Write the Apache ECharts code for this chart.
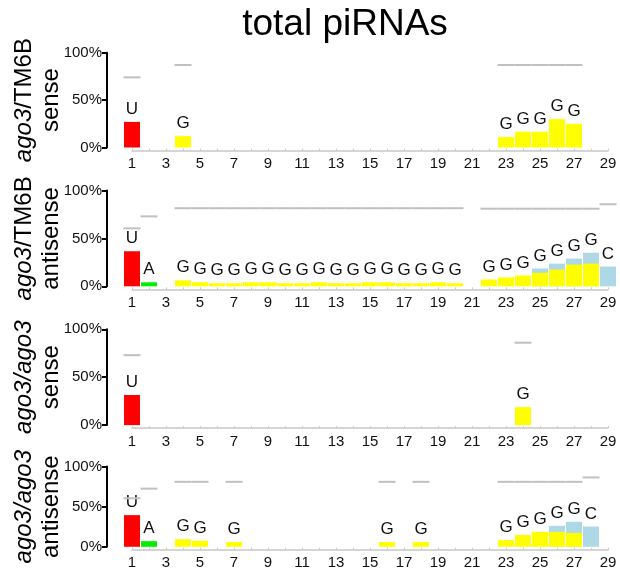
<!DOCTYPE html>
<html><head><meta charset="utf-8">
<script src="https://cdn.jsdelivr.net/npm/echarts@6/dist/echarts.min.js"></script>
<style>html,body{margin:0;padding:0;background:#fff}#c{width:620px;height:573px}</style>
</head><body><div id="c"></div>
<script>
// ---------- data ----------
const positions = [1,2,3,4,5,6,7,8,9,10,11,12,13,14,15,16,17,18,19,20,21,22,23,24,25,26,27,28,29];
const yTicks = [0, 50, 100];
const panelNames = ['{i|ago3}/TM6B\nsense', '{i|ago3}/TM6B\nantisense', '{i|ago3/ago3}\nsense', '{i|ago3/ago3}\nantisense'];

// panel 1: ago3/TM6B sense
const p1Main = [27,null,null,12,null,null,null,null,null,null,null,null,null,null,null,null,null,null,null,null,null,null,11,16.7,16.7,30,25,null,null];
const p1Extra = [null,null,null,null,null,null,null,null,null,null,null,null,null,null,null,null,null,null,null,null,null,null,null,null,null,null,null,null,null];
const p1Ref = [74,null,null,87,null,null,null,null,null,null,null,null,null,null,null,null,null,null,null,null,null,null,87,87,87,87,87,null,null];
const p1Letters = ['U','','','G','','','','','','','','','','','','','','','','','','','G','G','G','G','G','',''];

// panel 2: ago3/TM6B antisense
const p2Main = [36.6,4.2,null,6.3,4.2,3.2,3.2,4.2,4.2,3.2,3.2,4.2,3.2,3.2,4.2,4.2,3.2,3.2,4.2,3.2,null,7.2,9.3,11.3,14.1,17.5,22.7,23.7,20.6];
const p2Extra = [null,null,null,null,null,null,null,null,null,null,null,null,null,null,null,null,null,null,null,null,null,null,null,null,4.5,6.2,6.2,11.3,null];
const p2Ref = [60.5,73,null,81.5,81.5,81.5,81.5,81.5,81.5,81.5,81.5,81.5,81.5,81.5,81.5,81.5,81.5,81.5,81.5,81.5,null,81,81,81,81,81,81,81,85.6];
const p2Letters = ['U','A','','G','G','G','G','G','G','G','G','G','G','G','G','G','G','G','G','G','','G','G','G','G','G','G','G','C'];

// panel 3: ago3/ago3 sense
const p3Main = [31.4,null,null,null,null,null,null,null,null,null,null,null,null,null,null,null,null,null,null,null,null,null,null,18.8,null,null,null,null,null];
const p3Extra = [null,null,null,null,null,null,null,null,null,null,null,null,null,null,null,null,null,null,null,null,null,null,null,null,null,null,null,null,null];
const p3Ref = [73,null,null,null,null,null,null,null,null,null,null,null,null,null,null,null,null,null,null,null,null,null,null,86,null,null,null,null,null];
const p3Letters = ['U','','','','','','','','','','','','','','','','','','','','','','','G','','','','',''];

// panel 4: ago3/ago3 antisense
const p4Main = [39.5,7,null,9.5,7.4,null,6,null,null,null,null,null,null,null,null,6,null,6,null,null,null,null,8.4,14.8,18.6,18.6,17.3,25.3,null];
const p4Extra = [null,null,null,null,null,null,null,null,null,null,null,null,null,null,null,null,null,null,null,null,null,null,null,null,null,7.6,13.9,null,null];
const p4Ref = [60.5,72.5,null,81,81,null,81,null,null,null,null,null,null,null,null,81,null,81,null,null,null,null,81,81,81,81,81,86.5,null];
const p4Letters = ['U','A','','G','G','','G','','','','','','','','','G','','G','','','','','G','G','G','G','G','C',''];

const panels = [
  {main: p1Main, extra: p1Extra, ref: p1Ref, letters: p1Letters},
  {main: p2Main, extra: p2Extra, ref: p2Ref, letters: p2Letters},
  {main: p3Main, extra: p3Extra, ref: p3Ref, letters: p3Letters},
  {main: p4Main, extra: p4Extra, ref: p4Ref, letters: p4Letters}
];

// ---------- styling / layout ----------
const FONT = "'Liberation Sans', Arial, Helvetica, sans-serif";
const letterColor = {U: '#ff0000', A: '#00ee00', G: '#ffff00', C: '#add8e6'};
const EXTRA_COLOR = '#add8e6';
const REF_COLOR = '#c0c0c0';
const gridBoxes = [
  {top: 52.7, height: 94.8},
  {top: 190.5, height: 95.8},
  {top: 329.3, height: 95.8},
  {top: 466.6, height: 80.2}
];

const grids = [], xAxes = [], yAxes = [], series = [];
const letterLabel = (txt) => ({
  show: true, position: 'top', distance: 4, formatter: txt,
  fontSize: 17, color: '#111', fontFamily: FONT
});

panels.forEach((p, i) => {
  grids.push({left: 132, width: 476, top: gridBoxes[i].top, height: gridBoxes[i].height,
              containLabel: false, outerBoundsMode: 'none'});
  xAxes.push({
    type: 'value', gridIndex: i, min: positions[0], max: positions[positions.length - 1], interval: 1,
    offset: 3,
    axisLine: {show: true, onZero: false, lineStyle: {color: '#c8c8c8', width: 1.5}},
    axisTick: {show: true, inside: true, length: 2, lineStyle: {color: '#c8c8c8', width: 1}},
    splitLine: {show: false},
    axisLabel: {
      margin: 6, fontSize: 15, color: '#111', fontFamily: FONT,
      formatter: (v) => (v % 2 === 1 ? String(v) : '')
    }
  });
  yAxes.push({
    type: 'value', gridIndex: i, min: yTicks[0], max: yTicks[yTicks.length - 1], interval: 50,
    offset: 25,
    name: panelNames[i], nameLocation: 'middle', nameRotate: 90, nameGap: 42, nameMoveOverlap: false,
    nameTextStyle: {
      fontSize: 24, lineHeight: 27, color: '#000', fontFamily: FONT,
      rich: {i: {fontStyle: 'italic', fontSize: 24, lineHeight: 27, color: '#000', fontFamily: FONT}}
    },
    axisLine: {show: true, lineStyle: {color: '#000', width: 2}},
    axisTick: {show: true, length: 5, lineStyle: {color: '#000', width: 2}},
    splitLine: {show: false},
    axisLabel: {margin: 5, fontSize: 15, color: '#111', fontFamily: FONT, formatter: '{value}%'}
  });

  // upper (light blue) part: drawn behind, reaching the top of the whole bar
  const topData = positions.map((x, k) => {
    const v = p.extra[k];
    return {
      value: [x, v == null ? null : p.main[k] + v],
      label: v != null ? letterLabel(p.letters[k]) : {show: false}
    };
  });
  const mainData = positions.map((x, k) => {
    const v = p.main[k];
    const hasExtra = p.extra[k] != null;
    return {
      value: [x, v == null ? null : v],
      itemStyle: {color: letterColor[p.letters[k]] || '#ffff00'},
      label: (v != null && !hasExtra) ? letterLabel(p.letters[k]) : {show: false}
    };
  });

  series.push({
    type: 'bar', xAxisIndex: i, yAxisIndex: i, barWidth: 16, barGap: '-100%', z: 1,
    itemStyle: {color: EXTRA_COLOR},
    data: topData, clip: false, silent: true, animation: false
  });
  series.push({
    type: 'bar', xAxisIndex: i, yAxisIndex: i, barWidth: 16, barGap: '-100%', z: 2,
    data: mainData, clip: false, silent: true, animation: false
  });
  series.push({
    type: 'custom', xAxisIndex: i, yAxisIndex: i, clip: false, silent: true, animation: false,
    data: positions.map((x, k) => [x, p.ref[k]]).filter(d => d[1] != null),
    renderItem: (params, api) => {
      const x = api.value(0), y = api.value(1);
      const a = api.coord([x - 0.5, y]);
      const b = api.coord([x + 0.5, y]);
      return {type: 'line', shape: {x1: a[0], y1: a[1], x2: b[0], y2: b[1]},
              style: {stroke: REF_COLOR, lineWidth: 2}};
    },
    z: 3
  });
});

const chart = echarts.init(document.getElementById('c'), null, {renderer: 'canvas'});
chart.setOption({
  backgroundColor: '#fff',
  animation: false,
  title: {
    text: 'total piRNAs', left: 340, top: 1, textAlign: 'center',
    textStyle: {fontSize: 37, fontWeight: 'normal', color: '#000', fontFamily: FONT}
  },
  grid: grids, xAxis: xAxes, yAxis: yAxes, series: series
});
</script>
</body></html>
